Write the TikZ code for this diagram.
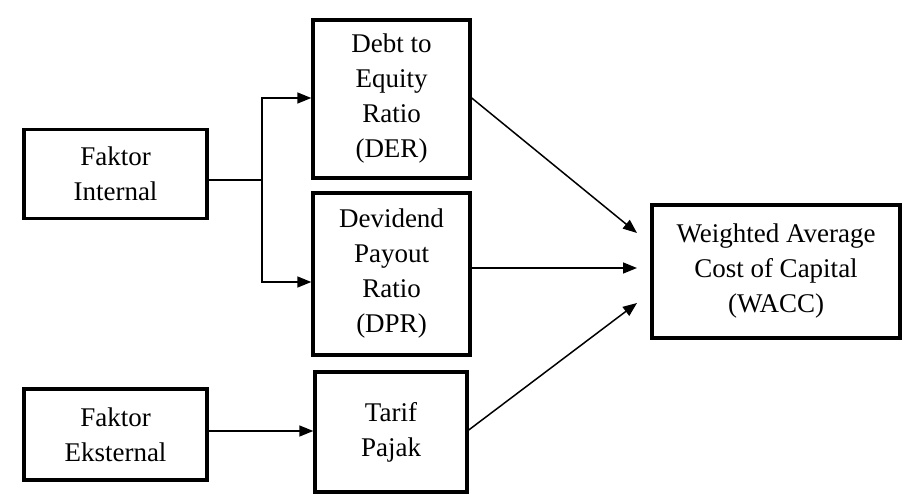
\documentclass[tikz,border=0pt]{standalone}
\usepackage{fontspec}
\setmainfont{Liberation Serif}
\usetikzlibrary{arrows.meta}
\begin{document}
\begin{tikzpicture}[x=1pt,y=-1pt,
  box/.style={draw=black,line width=3.4pt,align=center,inner sep=0pt,
    font=\fontsize{27}{35}\selectfont},
  conn/.style={line width=1.5pt},
  arr/.style={conn,-{Triangle[length=14pt,width=11pt]}}]
\useasboundingbox (0,0) rectangle (907,497);
\node[box,minimum width=183pt,minimum height=89pt] (int) at (115.5,174) {Faktor\\Internal};
\node[box,minimum width=183pt,minimum height=91pt] (eks) at (115.5,434.5) {Faktor\\Eksternal};
\node[box,minimum width=157pt,minimum height=158pt] (der) at (391.5,99) {Debt to\\Equity\\Ratio\\(DER)};
\node[box,minimum width=157pt,minimum height=162pt] (dpr) at (391.5,274) {Devidend\\Payout\\Ratio\\(DPR)};
\node[box,minimum width=152pt,minimum height=120pt] (tar) at (391,432) {Tarif\\Pajak};
\node[box,minimum width=248pt,minimum height=133pt] (wacc) at (776,271.5) {Weighted Average\\Cost of Capital\\(WACC)};
\coordinate (j) at (262,180);
\coordinate (w1) at (637,233);
\coordinate (w2) at (637,268);
\coordinate (w3) at (637,303);
\draw[conn] (int.east |- j) -- (j);
\draw[arr] (j) |- (der.west |- 0,98);
\draw[arr] (j) |- (dpr.west |- 0,282);
\draw[arr] (eks.east |- 0,431) -- (tar.west |- 0,431);
\draw[arr] (der.east |- 0,98) -- (w1);
\draw[arr] (dpr.east |- 0,268) -- (w2);
\draw[arr] (tar.east |- 0,430) -- (w3);
\end{tikzpicture}
\end{document}
